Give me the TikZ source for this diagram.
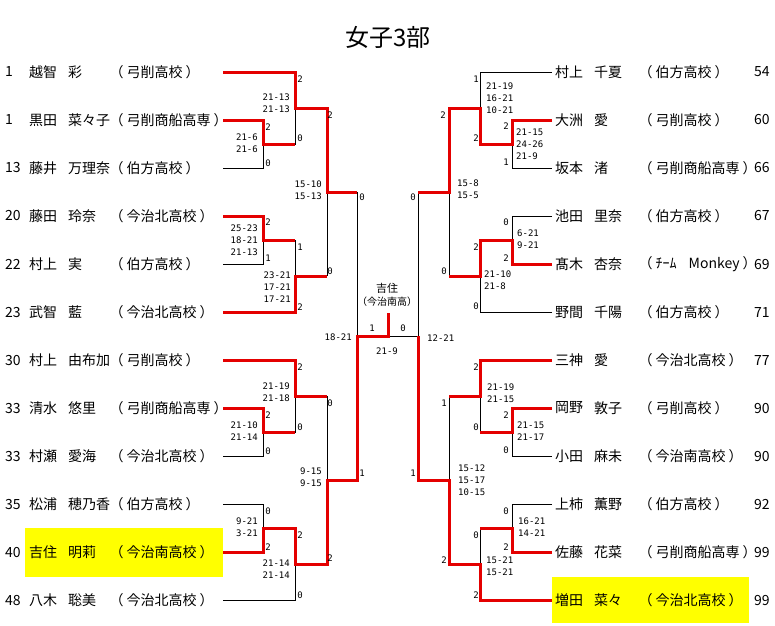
\documentclass[tikz,border=0pt]{standalone}
\usepackage{fontspec}
\setmainfont{Noto Sans CJK JP}
\newfontfamily\scorefont{DejaVu Sans Mono}
\definecolor{winred}{RGB}{228,0,0}
\definecolor{hilite}{RGB}{255,255,0}
\newcommand{\schoolname}[1]{（\hspace{3pt}#1\hspace{3pt}）}

\begin{document}
\begin{tikzpicture}[x=1pt, y=-1pt,
    wire/.style={line width=0.9pt},
    win/.style={line width=3pt, winred},
    player/.style={anchor=west, inner sep=0pt, font=\fontsize{14}{14}\selectfont},
    setno/.style={inner sep=0pt, font=\scorefont\fontsize{9}{9}\selectfont},
    games/.style={inner sep=0pt, font=\scorefont\fontsize{9}{12}\selectfont}]
    \useasboundingbox (0,0) rectangle (775,625);

    % Title
    \node[font=\fontsize{24}{24}\selectfont] (title) at (388,37) {女子3部};

    % Highlight of the finalists
    \fill[hilite] (25,528) rectangle (223,577);
    \fill[hilite] (552,577) rectangle (749,623);

    % Left players
    \foreach \no/\fam/\given/\school [count=\i] in {
        1/越智/彩/弓削高校, 1/黒田/菜々子/弓削商船高専, 13/藤井/万理奈/伯方高校,
        20/藤田/玲奈/今治北高校, 22/村上/実/伯方高校, 23/武智/藍/今治北高校,
        30/村上/由布加/弓削高校, 33/清水/悠里/弓削商船高専, 33/村瀬/愛海/今治北高校,
        35/松浦/穂乃香/伯方高校, 40/吉住/明莉/今治南高校, 48/八木/聡美/今治北高校}{
        \pgfmathsetmacro{\yy}{24+48*\i}
        \node[player] (lno\i) at (5,\yy) {\no};
        \node[player] (lfam\i) at (29,\yy) {\fam};
        \node[player] (lgiv\i) at (68,\yy) {\given};
        \node[player] (lsch\i) at (109.5,\yy) {\schoolname{\school}};
        \coordinate (pl\i) at (223,\yy);
    }

    % Right players
    \foreach \fam/\given/\school/\no [count=\i] in {
        村上/千夏/伯方高校/54, 大洲/愛/弓削高校/60, 坂本/渚/弓削商船高専/66,
        池田/里奈/伯方高校/67, 髙木/杏奈/ﾁｰﾑ\hspace{12pt}Monkey/69, 野間/千陽/伯方高校/71,
        三神/愛/今治北高校/77, 岡野/敦子/弓削高校/90, 小田/麻未/今治南高校/90,
        上柿/薫野/伯方高校/92, 佐藤/花菜/弓削商船高専/99, 増田/菜々/今治北高校/99}{
        \pgfmathsetmacro{\yy}{24+48*\i}
        \node[player] (rfam\i) at (555,\yy) {\fam};
        \node[player] (rgiv\i) at (594,\yy) {\given};
        \node[player] (rsch\i) at (638.5,\yy) {\schoolname{\school}};
        \node[player] (rno\i) at (754,\yy) {\no};
        \coordinate (pr\i) at (552,\yy);
    }

    % Left bracket
    \draw[wire] (pl2) -| (263,168) -- (pl3);
    \draw[wire] (pl1) -| (295,144) -- (263,144);
    \draw[wire] (295,108) -- (327,108);
    \draw[wire] (pl4) -| (263,264) -- (pl5);
    \draw[wire] (pl6) -| (295,240) -- (263,240);
    \draw[wire] (295,276) -- (327,276);
    \draw[wire] (327,108) -- (327,276);
    \draw[wire] (327,192) -- (357,192);
    \draw[wire] (pl8) -| (263,456) -- (pl9);
    \draw[wire] (pl7) -| (295,432) -- (263,432);
    \draw[wire] (295,396) -- (327,396);
    \draw[wire] (pl10) -| (263,552) -- (pl11);
    \draw[wire] (pl12) -| (295,528) -- (263,528);
    \draw[wire] (295,564) -- (327,564);
    \draw[wire] (327,396) -- (327,564);
    \draw[wire] (327,480) -- (357,480);
    \draw[wire] (357,192) -- (357,480);

    % Final
    \draw[wire] (357,336) -- (418,336);

    % Right bracket
    \draw[wire] (pr2) -| (512,168) -- (pr3);
    \draw[wire] (pr1) -| (480,144) -- (512,144);
    \draw[wire] (480,108) -- (449,108);
    \draw[wire] (pr4) -| (512,264) -- (pr5);
    \draw[wire] (pr6) -| (480,240) -- (512,240);
    \draw[wire] (480,276) -- (449,276);
    \draw[wire] (449,108) -- (449,276);
    \draw[wire] (449,192) -- (418,192);
    \draw[wire] (pr8) -| (512,456) -- (pr9);
    \draw[wire] (pr7) -| (480,432) -- (512,432);
    \draw[wire] (480,396) -- (449,396);
    \draw[wire] (pr10) -| (512,552) -- (pr11);
    \draw[wire] (pr12) -| (480,528) -- (512,528);
    \draw[wire] (480,564) -- (449,564);
    \draw[wire] (449,396) -- (449,564);
    \draw[wire] (449,480) -- (418,480);
    \draw[wire] (418,192) -- (418,480);

    % Winners, left
    \draw[win] (pl1) -| (295,108) -| (327,192) -- (357,192);
    \draw[win] (pl2) -| (263,144) -- (295,144);
    \draw[win] (pl4) -| (263,240) -- (295,240);
    \draw[win] (pl6) -| (295,276) -- (327,276);
    \draw[win] (pl7) -| (295,396) -- (327,396);
    \draw[win] (pl8) -| (263,432) -- (295,432);
    \draw[win] (pl11) -| (263,528) -| (295,564) -| (327,480) -| (357,336) -| (388,313);

    % Winners, right
    \draw[win] (pr2) -| (512,144) -| (480,108) -| (449,192) -- (418,192);
    \draw[win] (pr5) -| (512,240) -| (480,276) -- (449,276);
    \draw[win] (pr7) -| (480,396) -- (449,396);
    \draw[win] (pr8) -| (512,432) -- (480,432);
    \draw[win] (pr11) -| (512,528) -- (480,528);
    \draw[win] (pr12) -| (480,564) -| (449,480) -| (418,336);

    % Champion
    \node[font=\fontsize{11}{11}\selectfont] (champ) at (387,288) {吉住};
    \node[font=\fontsize{10}{10}\selectfont] (champsch) at (387,302) {（今治南高）};

    % Sets won
    \foreach \x/\y/\v [count=\i] in {
        300/79/2, 268/127/2, 268/163/0, 300/138/0, 330/115/2, 362/197/0,
        330/271/0, 268/222/2, 268/258/1, 300/247/1, 300/307/2,
        300/367/2, 268/415/2, 268/451/0, 300/427/0, 330/403/0, 362/473/1,
        268/511/0, 268/547/2, 300/535/2, 300/595/0, 330/558/2,
        372/328/1, 403/328/0,
        476/79/1, 476/138/2, 506/126/2, 506/162/1, 443/115/2, 413/197/0,
        506/222/0, 506/258/2, 476/247/2, 476/306/0, 444/271/0,
        476/367/2, 444/403/1, 506/415/2, 476/427/0, 506/450/0, 413/473/1,
        506/511/0, 476/535/0, 506/547/2, 444/560/2, 476/595/2}{
        \node[setno] (s\i) at (\x,\y) {\v};
    }

    % Game scores, left
    \node[games, anchor=east, align=right] (gl1) at (290,103) {21-13\\21-13};
    \node[games, anchor=east, align=right] (gl2) at (258,143) {21-6\\21-6};
    \node[games, anchor=east, align=right] (gl3) at (322,190) {15-10\\15-13};
    \node[games, anchor=east, align=right] (gl4) at (258,240) {25-23\\18-21\\21-13};
    \node[games, anchor=east, align=right] (gl5) at (291,287) {23-21\\17-21\\17-21};
    \node[games, anchor=east, align=right] (gl6) at (290,392) {21-19\\21-18};
    \node[games, anchor=east, align=right] (gl7) at (258,431) {21-10\\21-14};
    \node[games, anchor=east, align=right] (gl8) at (322,477) {9-15\\9-15};
    \node[games, anchor=east, align=right] (gl9) at (258,527) {9-21\\3-21};
    \node[games, anchor=east, align=right] (gl10) at (290,569) {21-14\\21-14};
    \node[games, anchor=east] (semil) at (352,337) {18-21};

    % Game scores, final
    \node[games] (final) at (387,351) {21-9};

    % Game scores, right
    \node[games, anchor=west, align=left] (gr1) at (486,98) {21-19\\16-21\\10-21};
    \node[games, anchor=west, align=left] (gr2) at (516,144) {21-15\\24-26\\21-9};
    \node[games, anchor=west, align=left] (gr3) at (457,189) {15-8\\15-5};
    \node[games, anchor=west, align=left] (gr4) at (517,239) {6-21\\9-21};
    \node[games, anchor=west, align=left] (gr5) at (484,280) {21-10\\21-8};
    \node[games, anchor=west, align=left] (gr6) at (487,393) {21-19\\21-15};
    \node[games, anchor=west, align=left] (gr7) at (517,431) {21-15\\21-17};
    \node[games, anchor=west, align=left] (gr8) at (458,480) {15-12\\15-17\\10-15};
    \node[games, anchor=west, align=left] (gr9) at (518,527) {16-21\\14-21};
    \node[games, anchor=west, align=left] (gr10) at (486,566) {15-21\\15-21};
    \node[games, anchor=west] (semir) at (427,338) {12-21};
\end{tikzpicture}
\end{document}
